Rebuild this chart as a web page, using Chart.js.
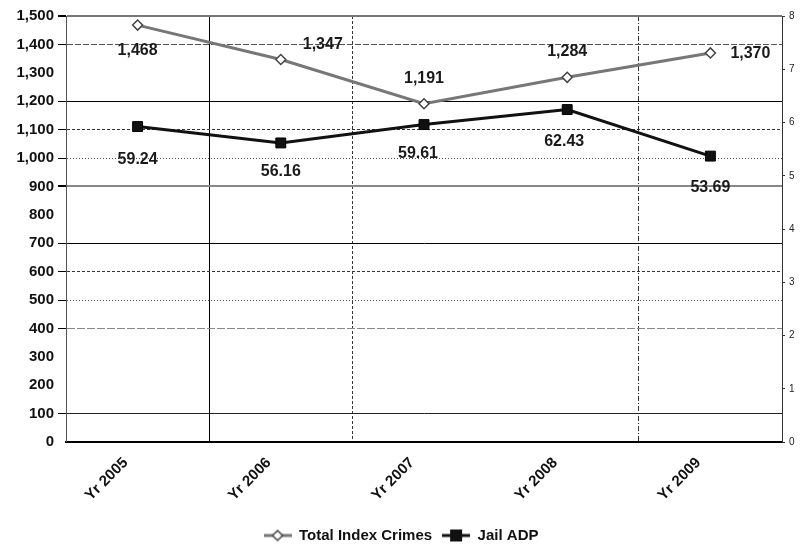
<!DOCTYPE html>
<html>
<head>
<meta charset="utf-8">
<script src="https://cdn.jsdelivr.net/npm/chart.js@4"></script>
<style>
  html, body { margin: 0; padding: 0; background: #fff; }
  #wrap { width: 802px; height: 546px; }
</style>
</head>
<body>
<div id="wrap"><canvas id="chart"></canvas></div>
<script>
const ANOS = ['Yr 2005', 'Yr 2006', 'Yr 2007', 'Yr 2008', 'Yr 2009'];
const CRIMES = [1468, 1347, 1191, 1284, 1370];
const JAIL_ADP = [59.24, 56.16, 59.61, 62.43, 53.69];
const RIGHT_TICKS = ['0', '1', '2', '3', '4', '5', '6', '7', '8'];

// posição dos rótulos de valor (dx, dy em px relativo ao ponto)
const POS_CRIMES = [[0, 26], [42, -15], [0, -25], [0, -26], [40, 1]];
const POS_JAIL   = [[0, 33], [0, 29], [-6, 29], [-3, 32], [0, 31]];

// estilo das linhas de grade horizontais (uma por tick de 100)
const H_GRID = [
  null, ['#222', 1, []], null, null, ['#888', 1, [8, 2]], ['#555', 1, [1, 2]],
  ['#333', 1, [3, 2]], ['#000', 1, []], null, ['#888', 2, []], ['#555', 1, [1, 2]],
  ['#333', 1, [3, 2]], ['#000', 1, []], null, ['#555', 1, [6, 2]], ['#777', 2, []]
];
// linhas verticais entre categorias
const V_GRID = [
  null, ['#000', 1, []], ['#333', 1, [3, 2]], null, ['#333', 1, [5, 2, 1, 2]], null
];

const FONTE = 'Liberation Sans, Arial, sans-serif';
const SEM_COR = 'rgba(0,0,0,0)';

function estilo(tabela, c, k, padrao) {
  if (c.type !== 'tick') return padrao;
  const e = tabela[c.index];
  return e ? e[k] : (k === 0 ? SEM_COR : k === 1 ? 0 : []);
}

// ícones da legenda: linha com marcador
function icone(corLinha, desenhaMarcador) {
  const cv = document.createElement('canvas');
  cv.width = 28; cv.height = 14;
  const g = cv.getContext('2d');
  g.strokeStyle = corLinha;
  g.lineWidth = 3;
  g.beginPath(); g.moveTo(0, 7); g.lineTo(28, 7); g.stroke();
  desenhaMarcador(g);
  return cv;
}
const ICONE_CRIMES = icone('#777', g => {
  g.fillStyle = '#fff'; g.strokeStyle = '#444'; g.lineWidth = 1.5;
  g.beginPath(); g.moveTo(14, 2); g.lineTo(19, 7); g.lineTo(14, 12); g.lineTo(9, 7); g.closePath();
  g.fill(); g.stroke();
});
const ICONE_JAIL = icone('#111', g => {
  g.fillStyle = '#111'; g.fillRect(8, 1, 12, 12);
});

const rotulos = {
  id: 'rotulos',
  afterDatasetsDraw(chart) {
    const ctx = chart.ctx;
    ctx.save();
    ctx.font = 'bold 16px ' + FONTE;
    ctx.fillStyle = '#1a1a1a';
    ctx.textAlign = 'center';
    ctx.textBaseline = 'middle';
    chart.data.datasets.forEach((ds, di) => {
      const meta = chart.getDatasetMeta(di);
      const pos = di === 0 ? POS_CRIMES : POS_JAIL;
      meta.data.forEach((pt, i) => {
        const v = ds.data[i];
        const txt = di === 0 ? v.toLocaleString('en-US') : v.toFixed(2);
        ctx.fillText(txt, pt.x + pos[i][0], pt.y + pos[i][1]);
      });
    });
    ctx.restore();
  }
};

new Chart(document.getElementById('chart'), {
  type: 'line',
  data: {
    labels: ANOS,
    datasets: [
      {
        label: 'Total Index Crimes',
        data: CRIMES,
        yAxisID: 'y',
        borderColor: '#777',
        borderWidth: 3,
        pointStyle: 'rectRot',
        pointRadius: 5,
        pointBackgroundColor: '#fff',
        pointBorderColor: '#444',
        pointBorderWidth: 1.5,
        tension: 0
      },
      {
        label: 'Jail ADP',
        data: JAIL_ADP,
        yAxisID: 'y1',
        borderColor: '#111',
        borderWidth: 3,
        pointStyle: 'rect',
        pointRadius: 7,
        pointBackgroundColor: '#111',
        pointBorderColor: '#000',
        pointBorderWidth: 1,
        tension: 0
      }
    ]
  },
  options: {
    responsive: true,
    maintainAspectRatio: false,
    animation: false,
    layout: { padding: { top: 16, left: 0, right: 0, bottom: -7 } },
    plugins: {
      legend: {
        position: 'bottom',
        labels: {
          usePointStyle: true,
          pointStyleWidth: 28,
          color: '#111',
          font: { family: FONTE, size: 15, weight: 'bold' },
          padding: 10,
          generateLabels: chart => {
            const itens = Chart.defaults.plugins.legend.labels.generateLabels(chart);
            itens.forEach((it, i) => { it.pointStyle = i === 0 ? ICONE_CRIMES : ICONE_JAIL; });
            return itens;
          }
        }
      },
      tooltip: { enabled: false }
    },
    scales: {
      x: {
        type: 'category',
        offset: true,
        grid: {
          offset: true,
          drawTicks: false,
          color: c => estilo(V_GRID, c, 0, SEM_COR),
          lineWidth: c => estilo(V_GRID, c, 1, 0)
        },
        border: { display: true, color: '#000', width: 2, dash: c => estilo(V_GRID, c, 2, []) },
        ticks: {
          maxRotation: 45,
          minRotation: 45,
          padding: 12,
          labelOffset: -12,
          color: '#111',
          font: { family: FONTE, size: 15, weight: 'bold' }
        },
        afterFit: s => { s.height = 76; }
      },
      y: {
        position: 'left',
        min: 0,
        max: 1500,
        ticks: {
          stepSize: 100,
          color: '#111',
          padding: 4,
          font: { family: FONTE, size: 15, weight: 'bold' },
          callback: v => v.toLocaleString('en-US')
        },
        grid: {
          tickLength: 8,
          tickColor: '#000',
          color: c => estilo(H_GRID, c, 0, SEM_COR),
          lineWidth: c => estilo(H_GRID, c, 1, 0)
        },
        border: { display: true, color: '#555', width: 1, dash: c => estilo(H_GRID, c, 2, [1, 2]) },
        afterFit: s => { s.width = 66; }
      },
      y1: {
        position: 'right',
        min: 0,
        max: 80,
        ticks: {
          stepSize: 10,
          color: '#222',
          padding: 4,
          font: { family: FONTE, size: 10 },
          callback: (v, i) => RIGHT_TICKS[i]
        },
        grid: { drawOnChartArea: false, tickLength: 3, tickColor: '#333' },
        border: { display: true, color: '#333', width: 1, dash: [1, 2] },
        afterFit: s => { s.width = 20; }
      }
    }
  },
  plugins: [rotulos]
});
</script>
</body>
</html>
